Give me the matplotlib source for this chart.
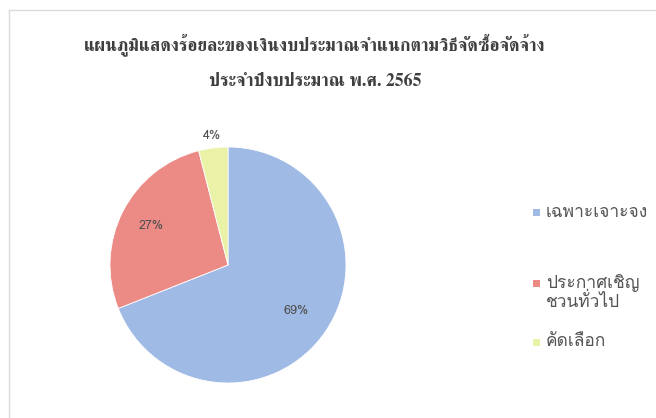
import numpy as np
import matplotlib
matplotlib.use("Agg")
import matplotlib.pyplot as plt
from matplotlib import font_manager
from matplotlib.patches import Rectangle
from matplotlib.lines import Line2D

# ---- data ----
title_line1 = "แผนภูมิแสดงร้อยละของเงินงบประมาณจำแนกตามวิธีจัดซื้อจัดจ้าง"
title_line2 = "ประจำปีงบประมาณ พ.ศ. 2565"
categories = ["เฉพาะเจาะจง", "ประกาศเชิญ\nชวนทั่วไป", "คัดเลือก"]
values = [69, 27, 4]
pct_labels = ["69%", "27%", "4%"]
colors = ["#9fbae4", "#ec8a86", "#e9f2a6"]

# ---- find fonts with Thai glyphs ----
def thai_fonts():
    found = []
    try:
        from fontTools.ttLib import TTFont
    except Exception:
        return found
    seen = set()
    for f in font_manager.fontManager.ttflist:
        if f.name in seen:
            continue
        try:
            tt = TTFont(f.fname, fontNumber=0, lazy=True)
            cmap = tt.getBestCmap()
            if cmap and 0x0E01 in cmap and 0x0E08 in cmap:
                found.append(f.name)
                seen.add(f.name)
        except Exception:
            pass
    return found

tf = thai_fonts()
serif_thai = [n for n in tf if "Serif" in n or "Norasi" in n or "Kinnari" in n]
sans_thai = [n for n in tf if n not in serif_thai]
body_fam = (sans_thai[:1] or tf[:1]) + ["DejaVu Sans"]
title_fam = (serif_thai[:1] or tf[:1]) + ["DejaVu Serif", "DejaVu Sans"]
plt.rcParams['font.family'] = body_fam

fig = plt.figure(figsize=(6.56, 4.18), dpi=100)
fig.patch.set_facecolor("white")
W, H = 656, 418

def fx(px):
    return px / W

def fy(py):
    return 1 - py / H

# frame (only top and left edges are visible in the scan)
fig.lines.append(Line2D([fx(9), 1.0], [fy(10), fy(10)], transform=fig.transFigure,
                        color="#dcdcdc", linewidth=1.0))
fig.lines.append(Line2D([fx(9), fx(9)], [fy(10), 0.0], transform=fig.transFigure,
                        color="#dcdcdc", linewidth=1.0))

fig.text(fx(315), fy(45), title_line1, ha="center", va="center",
         fontsize=12.8, color="#3f3f3f", family=title_fam, fontweight="bold")
fig.text(fx(315), fy(82), title_line2, ha="center", va="center",
         fontsize=12.8, color="#3f3f3f", family=title_fam, fontweight="bold")

# pie axes: center (228,265), radius 118
cx, cy, r = 228, 265, 118
ax = fig.add_axes([fx(cx - r), fy(cy + r), 2 * r / W, 2 * r / H])
wedges, _ = ax.pie(values, colors=colors, startangle=90, counterclock=False,
                   radius=1.0, wedgeprops=dict(linewidth=0.6, edgecolor="white"))
ax.set_xlim(-1, 1)
ax.set_ylim(-1, 1)
ax.set_aspect("equal")
ax.axis("off")

label_dist = [0.70, 0.73, 1.10]
for w, lab, d in zip(wedges, pct_labels, label_dist):
    ang = np.deg2rad((w.theta1 + w.theta2) / 2)
    ax.text(d * np.cos(ang), d * np.sin(ang), lab, ha="center", va="center",
            fontsize=9, color="#505050", clip_on=False)

# legend (manual placement of entries)
legend_y = [213, 283, 342]   # pixel y of first text line of each entry
line_gap = 19
sq = 7
for cat, col, ly in zip(categories, colors, legend_y):
    nlines = cat.count("\n") + 1
    fig.patches.append(Rectangle((fx(533), fy(ly + sq / 2)), sq / W, sq / H,
                                 transform=fig.transFigure, facecolor=col,
                                 edgecolor="none"))
    fig.text(fx(546), fy(ly + (nlines - 1) * line_gap / 2), cat,
             ha="left", va="center", fontsize=12.5, color="#555555",
             family=body_fam, linespacing=1.0)

fig.savefig("out.png", dpi=100, facecolor="white")
